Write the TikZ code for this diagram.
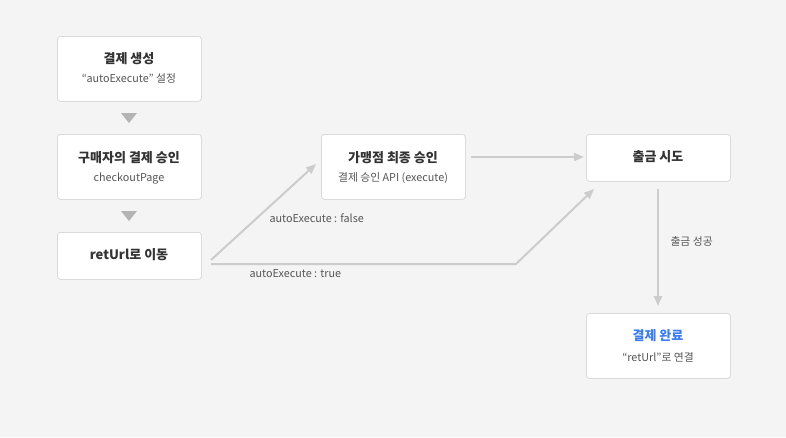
\documentclass[tikz,border=0pt]{standalone}
\usepackage{fontspec}
\setmainfont{Noto Sans CJK KR}
\usetikzlibrary{arrows.meta,calc}
\definecolor{bg}{HTML}{F4F4F4}
\definecolor{boxline}{HTML}{DADADA}
\definecolor{arr}{HTML}{CCCCCC}
\definecolor{trig}{HTML}{B4B4B4}
\definecolor{ttl}{HTML}{333333}
\definecolor{sub}{HTML}{555555}
\definecolor{blu}{HTML}{3B7CF0}
\tikzset{
  card/.style={draw=boxline, fill=white, rounded corners=3pt, line width=0.8pt, minimum width=144pt, anchor=north west, inner sep=0pt},
  card2/.style={card, minimum height=65pt},
  card1/.style={card, minimum height=47pt},
  ttlt/.style={font=\fontsize{13}{15}\selectfont\bfseries, text=ttl},
  subt/.style={font=\fontsize{10.8}{13}\selectfont, text=sub},
  lbl/.style={font=\fontsize{10.8}{13}\selectfont, text=sub},
  conn/.style={draw=arr, line width=2pt, -{Triangle[length=10pt,width=8pt]}}
}
\begin{document}
\begin{tikzpicture}[x=1pt,y=-1pt]
\fill[bg] (0,0) rectangle (786,437);
\useasboundingbox (0,0) rectangle (786,437);
% boxes
\node[card2] (b1) at (57,36) {};
\node[ttlt] (b1t) at (129,59) {결제 생성};
\node[subt] (b1s) at (129,78) {“autoExecute” 설정};
\node[card2] (b2) at (57,134) {};
\node[ttlt] (b2t) at (129,158) {구매자의 결제 승인};
\node[subt] (b2s) at (129,179) {checkoutPage};
\node[card1] (b3) at (57,232) {};
\node[ttlt] (b3t) at (129,255) {retUrl로 이동};
\node[card2] (b4) at (321,134) {};
\node[ttlt] (b4t) at (393,158) {가맹점 최종 승인};
\node[subt] (b4s) at (393,178) {결제 승인 API (execute)};
\node[card1] (b5) at (586,134) {};
\node[ttlt] (b5t) at (658,157) {출금 시도};
\node[card2] (b6) at (586,313) {};
\node[ttlt, text=blu] (b6t) at (658,336) {결제 완료};
\node[subt] (b6s) at (658,357) {“retUrl”로 연결};
% small triangles
\coordinate (t1) at (129,118);
\coordinate (t2) at (129,216);
\fill[trig] ($(t1)+(-8,-5)$) -- ($(t1)+(8,-5)$) -- ($(t1)+(0,5)$) -- cycle;
\fill[trig] ($(t2)+(-8,-5)$) -- ($(t2)+(8,-5)$) -- ($(t2)+(0,5)$) -- cycle;
% connectors
\coordinate (s1) at (211,260);
\coordinate (e1) at (316,164);
\draw[conn] (s1) -- (e1);
\coordinate (s2) at (471,157);
\coordinate (e2) at (584,157);
\draw[conn] (s2) -- (e2);
\coordinate (s3) at (211,264);
\coordinate (m3) at (516,264);
\coordinate (e3) at (594,189);
\draw[conn] (s3) -- (m3) -- (e3);
\coordinate (s4) at (658,189);
\coordinate (e4) at (658,306);
\draw[conn] (s4) -- (e4);
% labels
\node[lbl, anchor=west] (l1) at (266,218) {autoExecute : false};
\node[lbl, anchor=west] (l2) at (246,274) {autoExecute : true};
\node[lbl, anchor=west] (l3) at (667,241) {출금 성공};
\end{tikzpicture}
\end{document}
